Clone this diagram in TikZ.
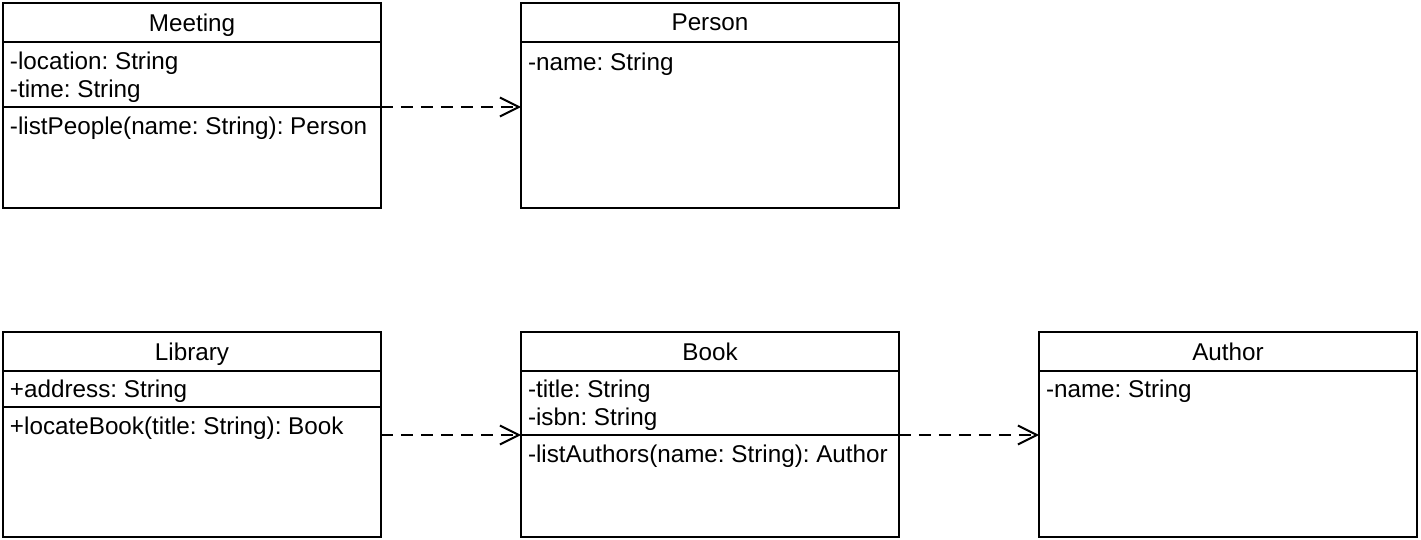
\documentclass[tikz,border=0pt]{standalone}
\usepackage{fontspec}
\setmainfont{Liberation Sans}
\usepackage{tikz}
\usetikzlibrary{shapes,arrows.meta,positioning}
\frenchspacing

\begin{document}
\begin{tikzpicture}[
    x=0.02cm, y=-0.02cm,
    every node/.style={font=\fontsize{13.8pt}{16pt}\selectfont, line width=1.1pt, outer sep=0pt},
    umlclass/.style={draw, rectangle, minimum width=7.56cm, minimum height=4.1cm, inner sep=0pt},
    classname/.style={draw, rectangle, minimum width=7.56cm, minimum height=0.78cm, inner sep=0pt, text depth=-1.5pt, anchor=north},
    fields/.style={draw, rectangle, minimum width=7.56cm, inner sep=0pt, anchor=north},
    member/.style={anchor=west, align=left, inner xsep=0.14cm, inner ysep=0pt},
    arrow/.style={-{Straight Barb[length=0.38cm, width=0.38cm, line width=1.1pt]}, line width=1.1pt, dash pattern=on 0.24cm off 0.16cm}
]
\useasboundingbox (0,0) rectangle (1421,540);

% Classes
\node[umlclass] (meeting) at (192,105.5) {};
\node[umlclass] (person) at (710,105.5) {};
\node[umlclass] (library) at (192,434.5) {};
\node[umlclass] (book) at (710,434.5) {};
\node[umlclass] (author) at (1228,434.5) {};

% Names
\node[classname] (meetingname) at (meeting.north) {Meeting};
\node[classname] (personname) at (person.north) {Person};
\node[classname] (libraryname) at (library.north) {Library};
\node[classname] (bookname) at (book.north) {Book};
\node[classname] (authorname) at (author.north) {Author};

% Attribute compartments
\node[fields, minimum height=1.3cm] (meetingattrs) at (meetingname.south) {};
\node[fields, minimum height=0.72cm] (libraryattrs) at (libraryname.south) {};
\node[fields, minimum height=1.28cm] (bookattrs) at (bookname.south) {};

% Attributes
\node[member] (meetingfields) at (3,77.5) {-location: String\\-time: String};
\node[member] (personfields) at (521,64) {-name: String};
\node[member] (libraryfields) at (3,391) {+address: String};
\node[member] (bookfields) at (521,405.5) {-title: String\\-isbn: String};
\node[member] (authorfields) at (1039,391) {-name: String};

% Operations
\node[member] (meetingops) at (3,128) {-listPeople(name: String): Person};
\node[member] (libraryops) at (3,428) {+locateBook(title: String): Book};
\node[member] (bookops) at (521,456) {-listAuthors(name: String): Author};

% Connections
\draw[arrow] (meetingattrs.south east) -- (meetingattrs.south east -| person.west);
\draw[arrow] (library.east |- bookattrs.south) -- (bookattrs.south west);
\draw[arrow] (bookattrs.south east) -- (bookattrs.south east -| author.west);

\end{tikzpicture}
\end{document}
